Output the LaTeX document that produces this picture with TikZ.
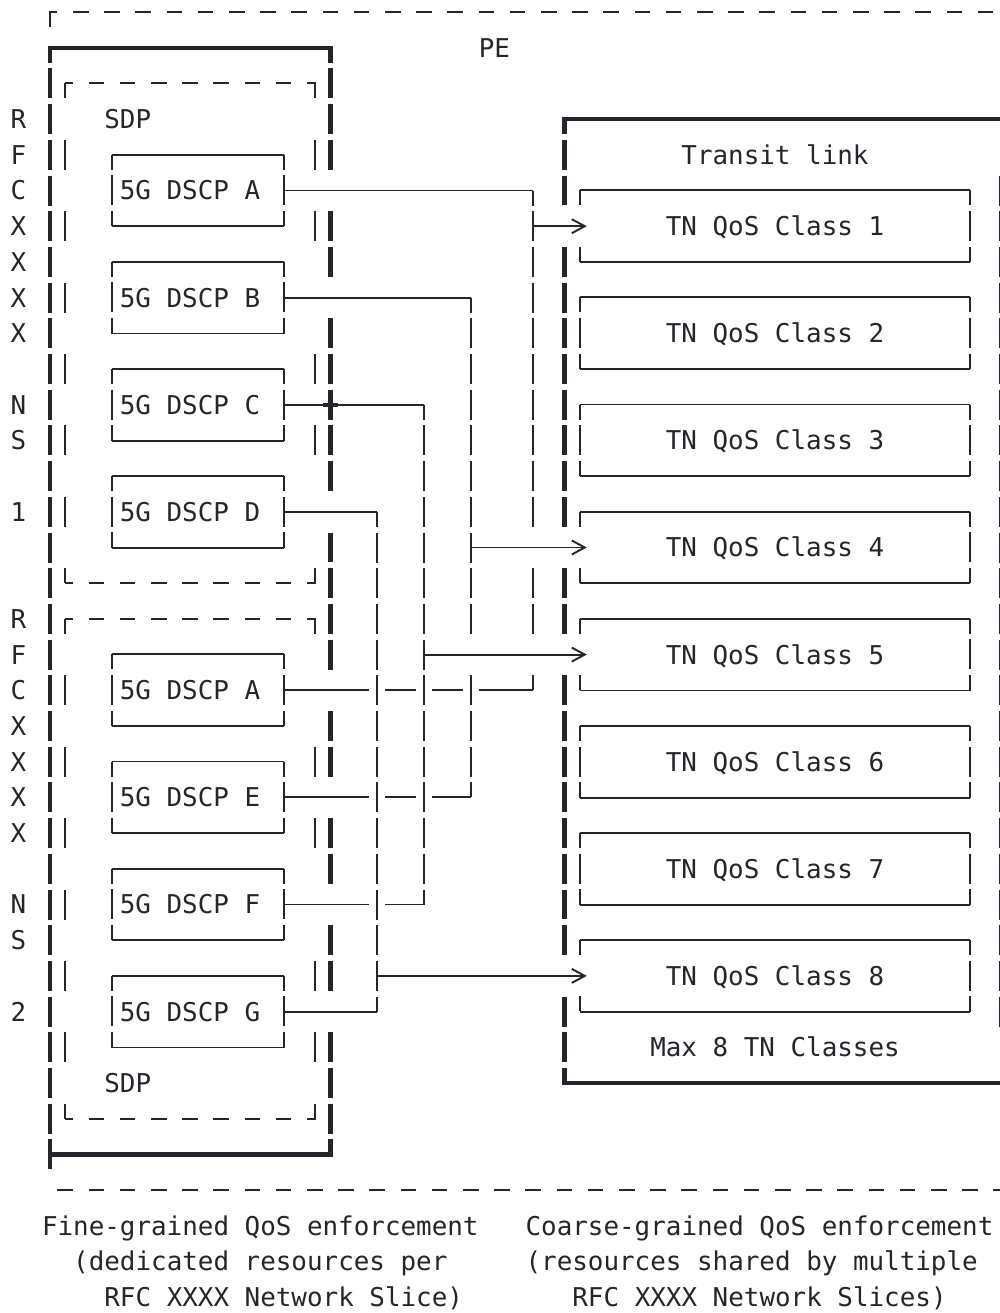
\documentclass[tikz,border=0pt]{standalone}
\usepackage{fontspec}
\setmonofont{DejaVu Sans Mono}
\usepackage{tikz}
\usetikzlibrary{arrows.meta}
\definecolor{inkgray}{RGB}{35,39,43}
\newcommand{\glyphh}{0.42}
\newcommand{\glyphbox}[2][glyphhalf]{%
  \draw[wire] (#2.north west) -- (#2.north east);
  \draw[wire] (#2.south west) -- (#2.south east);
  \draw[wire,#1] (#2.north west) -- (#2.south west);
  \draw[wire,glyphhalf] (#2.north east) -- (#2.south east);}
\newcommand{\sdpframe}[3]{%
  \draw[wire,sdpside] (4,#1) -- (4,#2);
  \draw[wire] (4.5,#1) -- (4,#1) (4.5,#2) -- (4,#2)
    (19.5,#1) -- (20,#1) -- (20,#1+\glyphh) (19.5,#2) -- (20,#2) -- (20,#2-\glyphh);
  \draw[wire,dashrule] (5.5,#1) -- (18.5,#1) (5.5,#2) -- (18.5,#2);
  \foreach \r in {#3} \draw[wire] (20,\r-\glyphh) -- (20,\r+\glyphh);}

\begin{document}
\begin{tikzpicture}[x=15.6pt, y=-35.7pt, color=inkgray, >={Straight Barb[length=13pt,width=14pt]},
  every node/.style={font=\ttfamily\fontsize{25.9pt}{31pt}\selectfont},
  wire/.style={line width=1.9pt},
  heavy/.style={line width=4.2pt, line join=miter},
  glyphrun/.style={dash pattern=on 30pt off 5.7pt},
  glyphhalf/.style={dash pattern=on 30pt off 5.7pt, dash phase=15pt},
  notchside/.style={dash pattern=on 15pt off 41.4pt},
  sdpside/.style={dash pattern=on 30pt off 41.4pt, dash phase=15pt},
  dashrule/.style={dash pattern=on 15.6pt off 15.6pt},
  txt/.style={inner sep=0pt, text height=18.9pt, text depth=0pt},
  dscp/.style={txt, minimum width=171.6pt, minimum height=71.4pt},
  tnclass/.style={txt, minimum width=390pt, minimum height=71.4pt}]
\fill[white] (-0.1795,-0.3361) rectangle (63.923,36.443);
\useasboundingbox (-0.1795,-0.3361) rectangle (63.923,36.443);

\draw[wire] (3,\glyphh) -- (3,0) -- (3.5,0);
\draw[wire,dashrule] (4.5,0) -- (64.5,0) (3.5,33) -- (64.5,33);
\node[txt,anchor=west] (pe) at (30.5,1) {PE};

\draw[heavy] (3,1+\glyphh) -- (3,1) -- (21,1) -- (21,1+\glyphh);
\draw[heavy,glyphrun] (3,1.58) -- (3,32.42);
\draw[heavy] (3,32) -- (21,32) -- (21,32-\glyphh);
\foreach \r in {2,3,4,6,7,9,10,11,12,13,15,16,17,18,20,21,23,24,26,27,29,30,31}
  \draw[heavy] (21,\r-\glyphh) -- (21,\r+\glyphh);

\sdpframe{2}{16}{4,6,10,12}
\sdpframe{17}{31}{21,23,27,29}
\node[txt,anchor=west] (sdp1) at (6.5,3) {SDP};
\node[txt,anchor=west] (sdp2) at (6.5,30) {SDP};

\foreach \ch/\r in {R/3,F/4,C/5,X/6,X/7,X/8,X/9,N/11,S/12,1/14,R/17,F/18,C/19,X/20,X/21,X/22,X/23,N/25,S/26,2/28}
  \node[txt] (tag\r) at (1,\r) {\ch};

\foreach \n/\lbl/\r in {1/A/5,2/B/8,3/C/11,4/D/14,5/A/19,6/E/22,7/F/25,8/G/28} {
  \node[dscp] (d\n) at (12.5,\r) {5G DSCP \lbl\hphantom{0}};
  \glyphbox{d\n}
}

\draw[heavy] (64.5,3) -- (36,3) -- (36,3+\glyphh);
\draw[heavy] (36,30-\glyphh) -- (36,30) -- (64.5,30);
\foreach \r in {4,5,7,8,9,10,11,12,13,14,16,17,19,20,21,22,23,24,25,26,28,29}
  \draw[heavy] (36,\r-\glyphh) -- (36,\r+\glyphh);
\draw[wire,glyphrun] (63.92,4.58) -- (63.92,28.42);
\node[txt] (transit) at (49.5,4) {Transit link};
\node[txt] (maxcls) at (49.5,29) {Max 8 TN Classes};

\foreach \n in {1,...,8}
  \node[tnclass] (q\n) at (49.5,3*\n+3) {TN QoS Class \n};
\foreach \n in {1,4,5,8} \glyphbox[notchside]{q\n};
\foreach \n in {2,3,6,7} \glyphbox{q\n};

\coordinate (t1) at (34,5);
\coordinate (b1) at (34,19);
\coordinate (t2) at (30,8);
\coordinate (b2) at (30,22);
\coordinate (t3) at (27,11);
\coordinate (b3) at (27,25);
\coordinate (t4) at (24,14);
\coordinate (b4) at (24,28);

\draw[wire] (d1.east) -- (t1);
\draw[wire] (d2.east) -- (t2);
\draw[wire] (d3.east) -- (t3);
\draw[heavy] (20.5,11) -- (21.5,11);
\draw[wire] (d4.east) -- (t4);
\draw[wire] (d5.east) -- (23.5,19) (24.5,19) -- (26.5,19) (27.5,19) -- (29.5,19) (30.5,19) -- (b1);
\draw[wire] (d6.east) -- (23.5,22) (24.5,22) -- (26.5,22) (27.5,22) -- (b2);
\draw[wire] (d7.east) -- (23.5,25) (24.5,25) -- (b3);
\draw[wire] (d8.east) -- (b4);
\draw[wire,glyphhalf] (t1) -- (34,14.42);
\draw[wire,glyphrun] (34,15.58) -- (34,17.42);
\draw[wire,glyphrun] (34,18.58) -- (b1);
\draw[wire,glyphhalf] (t2) -- (30,17.42);
\draw[wire,glyphrun] (30,18.58) -- (b2);
\draw[wire,glyphhalf] (t3) -- (b3);
\draw[wire,glyphhalf] (t4) -- (b4);
\draw[wire,->] (t1 |- q1.west) -- ([xshift=7pt]q1.west);
\draw[wire,->] (t2 |- q4.west) -- ([xshift=7pt]q4.west);
\draw[wire,->] (t3 |- q5.west) -- ([xshift=7pt]q5.west);
\draw[wire,->] (t4 |- q8.west) -- ([xshift=7pt]q8.west);

\node[txt,anchor=west] (fine1) at (2.5,34) {Fine-grained QoS enforcement};
\node[txt,anchor=west] (fine2) at (4.5,35) {(dedicated resources per};
\node[txt,anchor=west] (fine3) at (6.5,36) {RFC XXXX Network Slice)};
\node[txt,anchor=west] (coarse1) at (33.5,34) {Coarse-grained QoS enforcement};
\node[txt,anchor=west] (coarse2) at (33.5,35) {(resources shared by multiple};
\node[txt,anchor=west] (coarse3) at (36.5,36) {RFC XXXX Network Slices)};
\end{tikzpicture}
\end{document}
